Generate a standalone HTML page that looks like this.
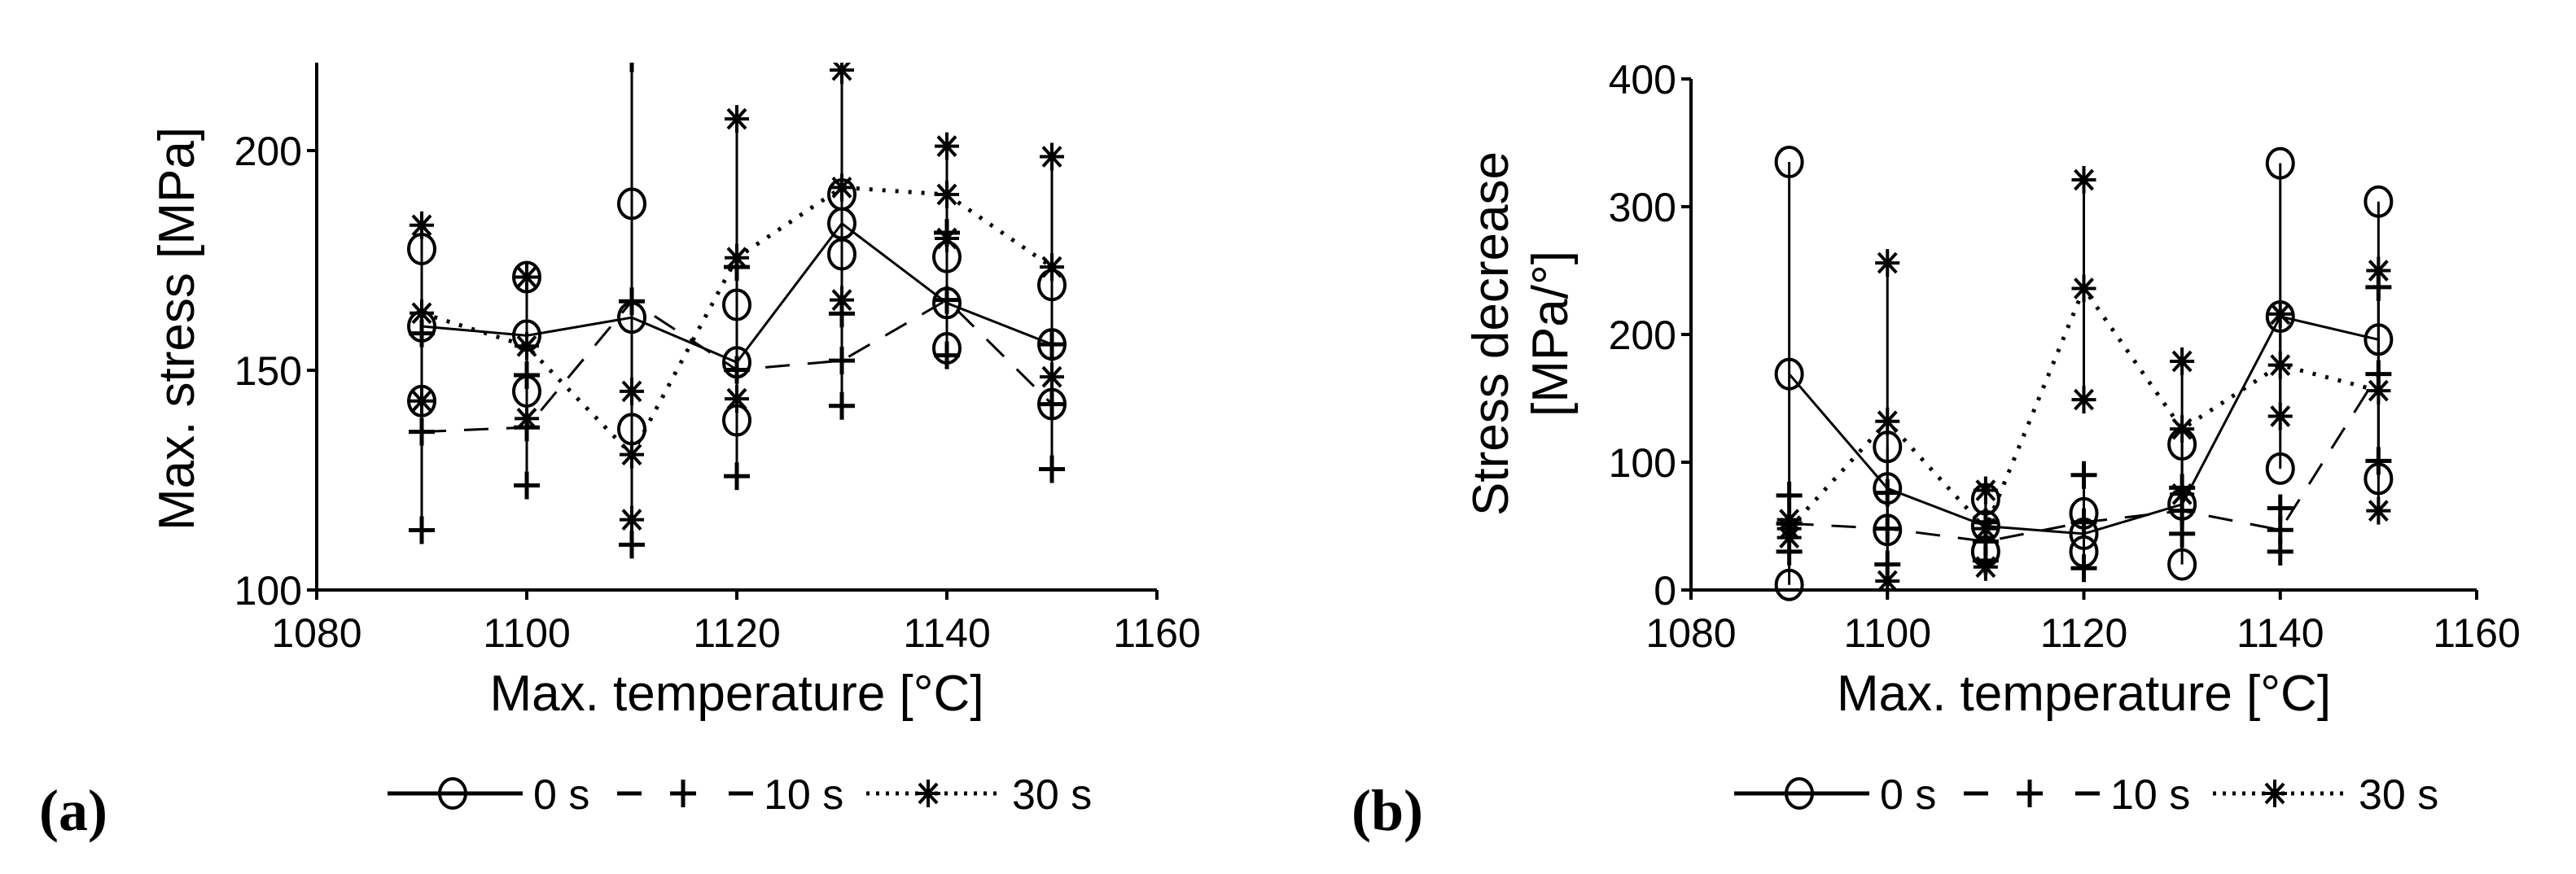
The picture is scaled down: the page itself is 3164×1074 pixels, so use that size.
<!DOCTYPE html>
<html><head><meta charset="utf-8">
<style>
html,body{margin:0;padding:0;background:#fff;}
svg{display:block;}
text{font-family:"Liberation Sans",sans-serif;fill:#000;}
</style></head>
<body>
<svg id="fig" width="3164" height="1074" viewBox="0 0 3164 1074" xmlns="http://www.w3.org/2000/svg"></svg>
<script>
// ----- shared data -----
const temps = [1090,1100,1110,1120,1130,1140,1150];
const xTicks = [1080,1100,1120,1140,1160];
const seriesNames = ["0 s","10 s","30 s"];
// chart (a): [low, mean, high] per temperature
const a0s  = [[143,160,177.6],[145.2,157.9,171.2],[136.6,162,187.9],[138.6,151.8,164.9],[176.4,183.4,190],[155,165.3,175.8],[142.3,155.9,169.4]];
const a10s = [[113.6,136,158.4],[123.8,137,148.9],[110.3,165.7,221],[125.9,150.1,173.5],[141.9,152.2,162.9],[153.4,166,181.3],[127.5,142.3,155.9]];
const a30s = [[143,163,183],[139,155.5,171.2],[116,130.8,145.2],[143.5,175.6,207.2],[166,191.6,218.3],[180,190,201],[148.5,173.5,198.6]];
const aYTicks = [100,150,200];
// chart (b)
const b0s  = [[4,169,335],[47,79.5,112],[30,50,71],[30,44,60],[20,67,114],[95,214,334],[87,196,304]];
const b10s = [[30,52,74],[20,48,76],[23,38,53],[17,53,90],[44,62,80],[30,47,64],[101,169,237]];
const b30s = [[41,48,55],[7,132,256],[18,48,78],[149,236,321],[75,126,179],[136,176,216],[62,156,250]];
const bYTicks = [0,100,200,300,400];

const NS="http://www.w3.org/2000/svg";
const svg=document.getElementById('fig');
function mk(tag,attrs,parent){const e=document.createElementNS(NS,tag);for(const k in attrs)e.setAttribute(k,attrs[k]);(parent||svg).appendChild(e);return e;}
const dashes=["none","30,22","4,12"];

function marker(g,type,x,y){
  if(type===0){mk('ellipse',{cx:x,cy:y,rx:16,ry:18,fill:'none',stroke:'#000','stroke-width':4},g);}
  else if(type===1){mk('path',{d:`M${x-16},${y}H${x+16}M${x},${y-17}V${y+17}`,stroke:'#000','stroke-width':5,fill:'none'},g);}
  else{mk('path',{d:`M${x-15},${y}H${x+15}M${x},${y-17}V${y+17}M${x-11},${y-12}L${x+11},${y+12}M${x-11},${y+12}L${x+11},${y-12}`,stroke:'#000','stroke-width':4,fill:'none'},g);}
}

function chart(opt){
  const g=mk('g',{});
  
  
  const X=v=>opt.x0+(v-1080)/80*(opt.x1-opt.x0);
  const Y=v=>opt.y0-(v-opt.ymin)/(opt.ymax-opt.ymin)*(opt.y0-opt.y1);
  const clip='clip-'+opt.name;
  const cp=mk('clipPath',{id:clip},g);
  mk('rect',{x:opt.x0-40,y:opt.y1,width:opt.x1-opt.x0+80,height:opt.y0-opt.y1+40},cp);
  const ax=mk('path',{d:`M${opt.x0},${opt.y1}V${opt.y0}H${opt.x1}`,stroke:'#000','stroke-width':4,fill:'none'},g);
  
  
  opt.yTicks.forEach(t=>{
    mk('line',{x1:opt.x0-12,x2:opt.x0,y1:Y(t),y2:Y(t),stroke:'#000','stroke-width':4},g);
    const tx=mk('text',{x:opt.x0-18,y:Y(t)+18,'font-size':50,'text-anchor':'end'},g);
    tx.textContent=t;
    
    
  });
  xTicks.forEach(t=>{
    mk('line',{x1:X(t),x2:X(t),y1:opt.y0,y2:opt.y0+12,stroke:'#000','stroke-width':4},g);
    const tx=mk('text',{x:X(t),y:opt.y0+70,'font-size':50,'text-anchor':'middle'},g);
    tx.textContent=t;
    
    
  });
  const xt=mk('text',{x:(opt.x0+opt.x1)/2,y:opt.y0+148,'font-size':62,'text-anchor':'middle'},g);
  xt.textContent='Max. temperature [°C]';
  
  
  opt.yTitle.forEach((s,i)=>{
    const yt=mk('text',{x:0,y:0,'font-size':62,'text-anchor':'middle',transform:`translate(${opt.yTitleX[i]},${opt.yTitleY}) rotate(-90)`},g);
    yt.textContent=s;
    
    
  });
  const data=opt.series;
  const pg=mk('g',{'clip-path':`url(#${clip})`},g);
  data.forEach((ser,si)=>{
    const sg=mk('g',{},pg);
    
    
    ser.forEach((p,i)=>{
      const bar=mk('line',{x1:X(temps[i]),x2:X(temps[i]),y1:Y(p[0]),y2:Y(p[2]),stroke:'#000','stroke-width':3},sg);
      
      
    });
    const d=ser.map((p,i)=>(i?'L':'M')+X(temps[i])+','+Y(p[1])).join('');
    const ln=mk('path',{d:d,fill:'none',stroke:'#000','stroke-width':si===2?5:3,'stroke-dasharray':dashes[si]},sg);
    
    
    ser.forEach((p,i)=>{p.forEach(v=>marker(sg,si,X(temps[i]),Y(v)));});
  });
  // legend
  const lg=mk('g',{},g);
  
  
  const L=opt.lx, ly=975;
  const items=[[0,0,166,80,179],[1,282,449,363,462],[2,588,754,664,767]];
  items.forEach(it=>{
    const e=mk('g',{},lg);
    
    
    if(it[0]===1){
      mk('path',{d:`M${L+it[1]},${ly}h30M${L+it[2]-30},${ly}h30`,stroke:'#000','stroke-width':5},e);
    } else {
      mk('line',{x1:L+it[1],x2:L+it[2],y1:ly,y2:ly,stroke:'#000','stroke-width':5,'stroke-dasharray':it[0]===2?'4,8':'none'},e);
    }
    marker(e,it[0],L+it[3],ly);
    const t=mk('text',{x:L+it[4],y:ly+19,'font-size':52},e);
    t.textContent=seriesNames[it[0]];
  });
  const pl=mk('text',{x:opt.px,y:1020,'font-size':72,'font-weight':'bold'},g);
  pl.setAttribute('style','font-family:"Liberation Serif",serif');
  pl.textContent=opt.panel;
  
  
}

chart({name:'chart-a',x0:389,x1:1421,y0:725,y1:77,ymin:100,ymax:220,yTicks:aYTicks,
  series:[a0s,a10s,a30s],yTitle:['Max. stress [MPa]'],yTitleX:[238],yTitleY:404,lx:476,px:48,panel:'(a)'});
chart({name:'chart-b',x0:2077,x1:3042,y0:725,y1:97,ymin:0,ymax:400,yTicks:bYTicks,
  series:[b0s,b10s,b30s],yTitle:['Stress decrease','[MPa/°]'],yTitleX:[1852,1925],yTitleY:410,lx:2130,px:1660,panel:'(b)'});
</script>
</body></html>
